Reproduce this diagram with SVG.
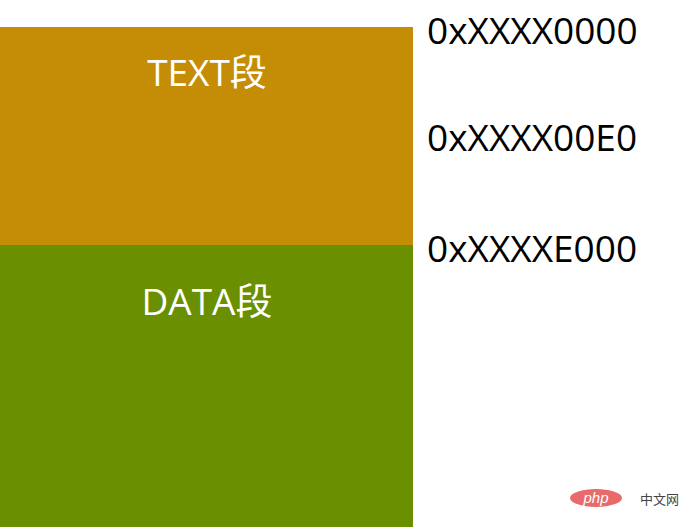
<svg xmlns="http://www.w3.org/2000/svg" width="694" height="527" viewBox="0 0 694 527">
<style>
.seg{font-family:"Open Sans","Noto Sans CJK SC",sans-serif;font-size:37px;fill:#fff;text-anchor:middle}
.addr{font-family:"Open Sans","Liberation Sans",sans-serif;font-size:37px;fill:#000}
</style>
<rect width="694" height="527" fill="#fff"/>
<g id="text-seg"><rect x="0" y="27" width="413" height="218" fill="#c48d05"/><text class="seg" x="207" y="86">TEXT段</text></g>
<g id="data-seg"><rect x="0" y="245" width="413" height="282" fill="#6a8f00"/><text class="seg" x="207" y="315">DATA段</text></g>
<g id="addrs">
<text class="addr" x="427" y="44">0xXXXX0000</text>
<text class="addr" x="427" y="151">0xXXXX00E0</text>
<text class="addr" x="427" y="262">0xXXXXE000</text>
</g>
<g id="watermark">
<ellipse cx="596" cy="498" rx="26" ry="9" fill="#e86a6a"/>
<text x="596" y="503" font-family="Liberation Sans,sans-serif" font-style="italic" font-size="15" fill="#fff" text-anchor="middle">php</text>
<text x="640" y="504" font-family="Noto Sans CJK SC,sans-serif" font-size="13" fill="#444">中文网</text>
</g>
</svg>
